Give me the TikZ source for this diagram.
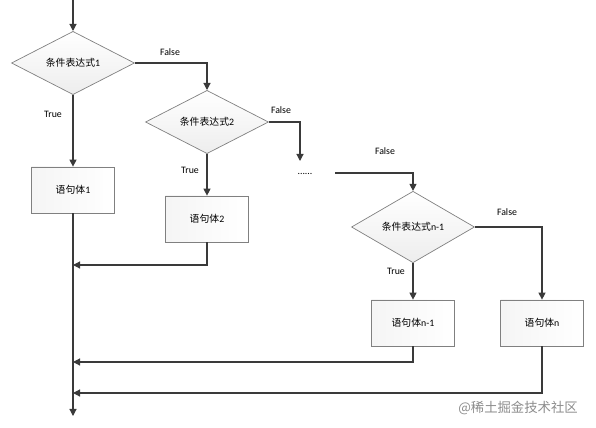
\documentclass[tikz,border=0pt]{standalone}
\usepackage{fontspec}
\setmainfont{Carlito}
\newfontfamily\cjk{Noto Sans CJK SC}
\usetikzlibrary{shapes.geometric,arrows.meta}
\definecolor{linegray}{HTML}{3A3A3A}
\definecolor{boxgray}{HTML}{808080}
\begin{document}
\begin{tikzpicture}[x=0.025cm, y=-0.025cm,
  font=\fontsize{7}{8}\selectfont,
  cond/.style={diamond, draw=boxgray, line width=0.5pt, inner sep=0pt,
    minimum width=3.075cm, minimum height=1.5cm,
    top color=white, bottom color=black!7},
  body/.style={rectangle, draw=boxgray, line width=0.5pt,
    minimum width=2.075cm, minimum height=1.15cm,
    left color=black!4, right color=white},
  flow/.style={draw=linegray, line width=0.8pt, -{Triangle[width=5pt,length=5pt]}},
  plain/.style={draw=linegray, line width=0.8pt},
  lbl/.style={inner sep=1pt}]
\useasboundingbox (0,0) rectangle (596,427);
% decisions
\node[cond] (cond1) at (73,63) {{\cjk 条件表达式}1};
\node[cond] (cond2) at (207,122) {{\cjk 条件表达式}2};
\node[cond] (condn) at (413,227) {{\cjk 条件表达式}n-1};
% statement blocks
\node[body] (body1) at (73,190) {{\cjk 语句体}1};
\node[body] (body2) at (207,219) {{\cjk 语句体}2};
\node[body] (bodym) at (413,323) {{\cjk 语句体}n-1};
\node[body] (bodyn) at (542,323) {{\cjk 语句体}n};
\node (dots) at (305,174) {......};
% free ends
\coordinate (start) at (73,0);
\coordinate (gap1) at (300,161);
\coordinate (gap2) at (335,173);
\coordinate (join2) at (73,265);
\coordinate (joinm) at (73,362);
\coordinate (joinn) at (73,393);
\coordinate (finish) at (73,416);
% connectors
\draw[flow] (start) -- (cond1.north);
\draw[flow] (cond1.south) -- (body1.north);
\draw[flow] (cond1.east) -| (cond2.north);
\draw[flow] (cond2.south) -- (body2.north);
\draw[flow] (cond2.east) -| (gap1);
\draw[flow] (gap2) -| (condn.north);
\draw[flow] (condn.south) -- (bodym.north);
\draw[flow] (condn.east) -| (bodyn.north);
\draw[plain] (body1.south) -- (join2);
\draw[flow] (join2) -- (finish);
\draw[flow] (body2.south) |- (join2);
\draw[flow] (bodym.south) |- (joinm);
\draw[flow] (bodyn.south) |- (joinn);
% labels
\node[lbl] (f1) at (170,52) {False};
\node[lbl] (f2) at (281,110) {False};
\node[lbl] (f3) at (385,151) {False};
\node[lbl] (f4) at (507,212) {False};
\node[lbl] (t1) at (53,114) {True};
\node[lbl] (t2) at (190,170) {True};
\node[lbl] (t3) at (396,271) {True};
\node[text=black!45, font=\cjk\fontsize{9.5}{10}\selectfont] (mark) at (518,408) {@稀土掘金技术社区};
\end{tikzpicture}
\end{document}
